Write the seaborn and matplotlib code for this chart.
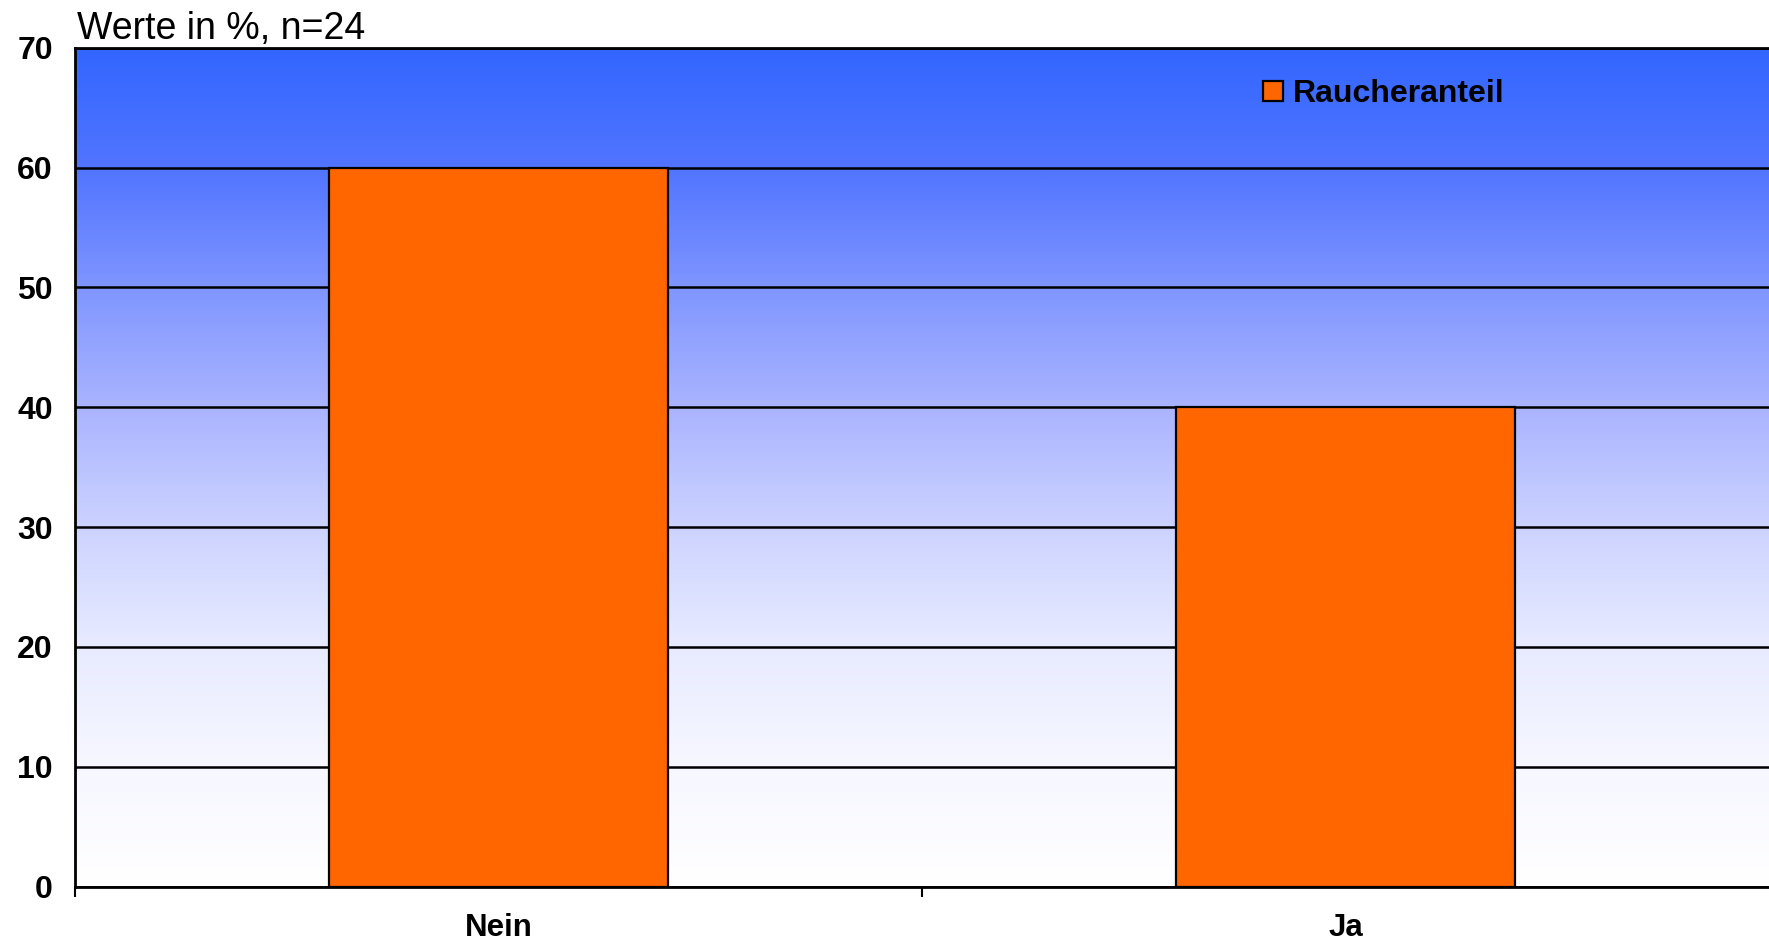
import matplotlib
matplotlib.use("Agg")
from matplotlib import pyplot as plt
from matplotlib.colors import LinearSegmentedColormap
import numpy as np
import pandas as pd
import seaborn as sns

# data
kategorien = ["Nein", "Ja"]
raucheranteil = [60, 40]
serie = "Raucheranteil"
y_ticks = [0, 10, 20, 30, 40, 50, 60, 70]
untertitel = "Werte in %, n=24"

df = pd.DataFrame({"Antwort": kategorien, "Anteil": raucheranteil})

sns.set_theme(style="white")
plt.rcParams["font.family"] = ["Liberation Sans", "DejaVu Sans"]
plt.rcParams["text.color"] = "black"
plt.rcParams["xtick.color"] = "black"
plt.rcParams["ytick.color"] = "black"

fig = plt.figure(figsize=(17.69, 9.43), dpi=100)
ax = fig.add_axes([0.0424, 0.0598, 0.9576, 0.8896])

sns.barplot(data=df, x="Antwort", y="Anteil", color="#FF6600", saturation=1,
            width=0.4, edgecolor="black", linewidth=1.6, label=serie, ax=ax)
for p in ax.patches:
    p.set_zorder(2)

# hintergrund: verlauf von weiss (unten) nach blau (oben)
verlauf = LinearSegmentedColormap.from_list("verlauf", [
    (0.0, "#FFFFFF"), (1 / 7, "#F6F7FF"), (2 / 7, "#E8EBFF"),
    (3 / 7, "#CCD3FF"), (4 / 7, "#AAB4FF"), (5 / 7, "#8096FF"),
    (6 / 7, "#5275FF"), (1.0, "#3366FF")])
grad = np.linspace(0, 1, 256).reshape(-1, 1)
ax.imshow(grad, cmap=verlauf, origin="lower", aspect="auto",
          extent=(-0.5, 1.5, 0, 70), zorder=0, interpolation="bilinear")

ax.set_xlim(-0.5, 1.5)
ax.set_ylim(0, 70)
ax.set_yticks(y_ticks)
ax.yaxis.grid(True, color="black", linewidth=1.8)
for gl in ax.get_ygridlines():
    gl.set_zorder(1)

ax.set_xlabel("")
ax.set_ylabel("")
ax.tick_params(axis="y", left=False, length=0, pad=16, labelsize=23)
ax.tick_params(axis="x", which="major", bottom=False, length=0, pad=19,
               labelsize=22.5)
ax.set_xticks([-0.5, 0.5], minor=True)
ax.tick_params(axis="x", which="minor", bottom=True, length=7, width=1.5,
               color="black", direction="out")
for lbl in ax.get_xticklabels() + ax.get_yticklabels():
    lbl.set_fontweight("bold")

for side in ["left", "top", "bottom"]:
    ax.spines[side].set_color("black")
    ax.spines[side].set_linewidth(2)
    ax.spines[side].set_zorder(3)
ax.spines["right"].set_visible(False)

leg = ax.legend(loc="center left", bbox_to_anchor=(0.714, 0.900),
                bbox_transform=fig.transFigure, frameon=False,
                borderpad=0, borderaxespad=0, handlelength=0.62,
                handleheight=0.62, handletextpad=0.3,
                prop={"size": 23, "weight": "bold"})

fig.text(0.0435, 0.9586, untertitel, fontsize=27, va="baseline", ha="left")

fig.savefig("out.png", dpi=100)
